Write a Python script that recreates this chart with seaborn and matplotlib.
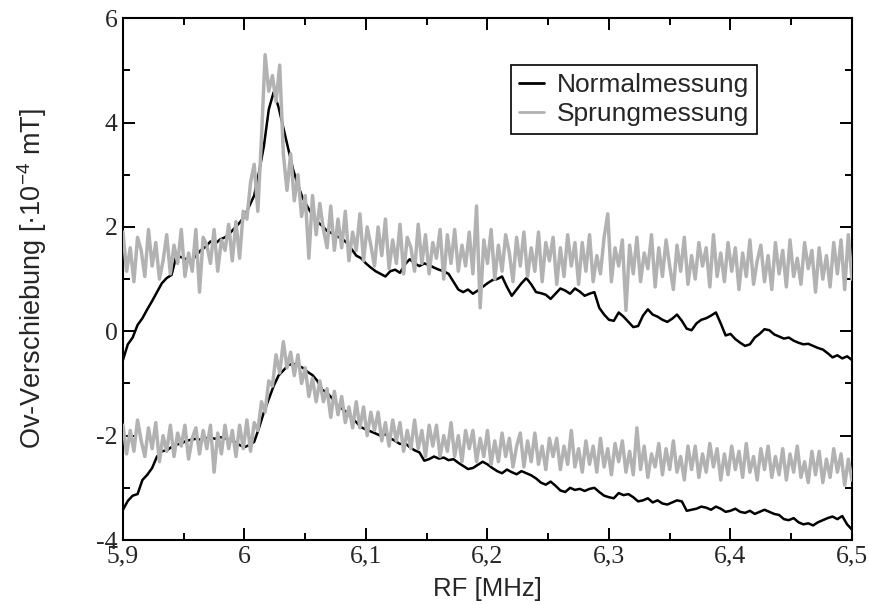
import numpy as np
import pandas as pd
import matplotlib
matplotlib.use("Agg")
import matplotlib.pyplot as plt
from matplotlib.ticker import FixedLocator, FixedFormatter, MultipleLocator
import seaborn as sns

# ---------------- data ----------------
# Normalmessung: sampled every 0.004 MHz from 5.9 MHz
normal_start = 5.9
normal_step = 0.004
# Sprungmessung: sampled every 0.003 MHz from 5.9 MHz
sprung_start = 5.9
sprung_step = 0.003

normal_upper = [
    -0.55, -0.25, -0.12, 0.12, 0.25, 0.42, 0.58, 0.75, 0.92, 1.02,
    1.08, 1.45, 1.42, 1.38, 1.33, 1.45, 1.55, 1.62, 1.72, 1.68,
    1.76, 1.80, 1.88, 1.98, 2.08, 2.20, 2.40, 2.60, 3.05, 3.55,
    4.25, 4.58, 4.30, 3.90, 3.50, 3.10, 2.80, 2.55, 2.38, 2.22,
    2.10, 2.02, 1.92, 1.88, 1.82, 1.78, 1.70, 1.58, 1.45, 1.40,
    1.30, 1.22, 1.15, 1.10, 1.05, 1.15, 1.18, 1.12, 1.28, 1.38,
    1.30, 1.25, 1.30, 1.27, 1.22, 1.18, 1.15, 1.10, 0.95, 0.80,
    0.75, 0.80, 0.72, 0.78, 0.85, 0.92, 0.98, 1.00, 1.05, 0.85,
    0.68, 0.80, 0.92, 1.02, 0.90, 0.75, 0.73, 0.70, 0.62, 0.72,
    0.82, 0.78, 0.72, 0.82, 0.76, 0.68, 0.72, 0.75, 0.45, 0.32,
    0.22, 0.20, 0.36, 0.28, 0.18, 0.08, 0.10, 0.30, 0.42, 0.32,
    0.28, 0.22, 0.18, 0.24, 0.32, 0.20, 0.05, 0.02, 0.15, 0.22,
    0.25, 0.30, 0.36, 0.15, -0.08, -0.05, -0.15, -0.22, -0.28, -0.25,
    -0.12, -0.05, 0.04, 0.02, -0.06, -0.10, -0.14, -0.12, -0.18, -0.22,
    -0.25, -0.24, -0.28, -0.32, -0.35, -0.42, -0.50, -0.46, -0.52, -0.48,
    -0.55,
]

normal_lower = [
    -3.42, -3.25, -3.15, -3.12, -2.85, -2.75, -2.62, -2.40, -2.30, -2.28,
    -2.22, -2.17, -2.15, -2.10, -2.08, -2.06, -2.08, -2.05, -2.04, -2.06,
    -2.03, -2.05, -2.08, -2.12, -2.18, -2.22, -2.18, -2.12, -1.85, -1.55,
    -1.30, -1.05, -0.85, -0.75, -0.65, -0.62, -0.66, -0.70, -0.78, -0.84,
    -0.95, -1.12, -1.18, -1.28, -1.40, -1.48, -1.55, -1.66, -1.74, -1.84,
    -1.88, -1.92, -1.96, -2.00, -1.97, -2.05, -2.10, -2.16, -2.14, -2.22,
    -2.28, -2.32, -2.48, -2.45, -2.40, -2.44, -2.42, -2.47, -2.45, -2.52,
    -2.58, -2.64, -2.62, -2.56, -2.50, -2.55, -2.62, -2.68, -2.72, -2.65,
    -2.70, -2.74, -2.68, -2.72, -2.76, -2.82, -2.90, -2.94, -2.88, -2.96,
    -3.05, -3.08, -3.00, -3.04, -3.02, -3.06, -3.02, -3.00, -3.08, -3.15,
    -3.18, -3.20, -3.10, -3.14, -3.12, -3.18, -3.26, -3.24, -3.20, -3.28,
    -3.24, -3.30, -3.32, -3.28, -3.24, -3.26, -3.44, -3.42, -3.40, -3.36,
    -3.38, -3.42, -3.36, -3.40, -3.46, -3.44, -3.40, -3.46, -3.48, -3.44,
    -3.50, -3.46, -3.42, -3.46, -3.50, -3.52, -3.60, -3.62, -3.58, -3.66,
    -3.70, -3.68, -3.72, -3.66, -3.62, -3.58, -3.55, -3.60, -3.54, -3.70,
    -3.80,
]

sprung_upper = [
    1.90, 1.15, 1.60, 0.95, 1.80, 1.55, 1.05, 1.95, 1.25, 1.70,
    1.00, 1.35, 1.85, 1.10, 1.65, 1.30, 1.95, 1.05, 1.50, 1.15,
    1.95, 0.75, 1.80, 1.65, 1.30, 1.95, 1.15, 1.75, 1.55, 2.05,
    1.35, 2.10, 1.40, 2.30, 2.15, 2.85, 3.20, 2.30, 3.70, 5.30,
    4.60, 4.90, 4.40, 5.10, 3.40, 2.70, 3.40, 2.50, 3.00, 2.20,
    2.60, 1.40, 2.60, 1.85, 2.45, 1.95, 1.60, 2.40, 1.55, 2.15,
    1.60, 2.30, 1.35, 1.90, 1.55, 2.25, 1.35, 2.00, 1.65, 1.25,
    2.00, 1.45, 2.15, 1.20, 1.75, 1.30, 2.05, 1.10, 1.80, 1.60,
    1.15, 2.05, 1.30, 1.85, 1.10, 1.70, 1.40, 1.95, 1.00, 1.85,
    1.30, 1.95, 1.15, 1.65, 1.25, 1.90, 1.10, 2.40, 0.45, 1.75,
    1.30, 1.95, 1.00, 1.65, 1.15, 1.85, 1.50, 0.95, 1.80, 1.25,
    1.90, 1.05, 1.60, 1.15, 1.90, 0.95, 1.70, 1.35, 1.80, 0.90,
    1.60, 1.05, 1.85, 1.25, 1.70, 0.90, 1.70, 1.15, 1.85, 0.95,
    1.45, 1.10, 1.80, 2.25, 0.95, 1.60, 1.25, 1.75, 0.40, 1.65,
    1.10, 1.80, 0.95, 1.50, 1.20, 1.85, 0.85, 1.60, 1.05, 1.75,
    1.25, 0.80, 1.65, 1.15, 1.80, 0.90, 1.45, 1.00, 1.70, 1.25,
    1.60, 0.85, 1.85, 1.05, 1.50, 0.95, 1.70, 1.15, 1.60, 0.80,
    1.50, 1.05, 1.75, 0.90, 1.35, 1.65, 0.95, 1.45, 0.80, 1.70,
    1.10, 1.55, 0.85, 1.75, 1.05, 1.40, 0.90, 1.70, 1.20, 1.55,
    0.75, 1.60, 1.00, 1.45, 0.85, 1.70, 1.10, 1.75, 0.80, 1.85,
    1.00,
]

sprung_lower = [
    -1.80, -2.35, -1.90, -2.30, -1.70, -2.10, -2.40, -1.85, -2.25, -1.75,
    -2.50, -2.00, -2.30, -1.80, -2.40, -1.95, -2.20, -1.80, -2.45, -2.05,
    -1.85, -2.35, -1.90, -2.25, -1.80, -2.70, -1.95, -2.35, -1.80, -2.25,
    -1.90, -2.40, -1.80, -2.25, -1.70, -2.30, -1.75, -1.90, -1.35, -1.55,
    -0.95, -1.05, -0.45, -0.80, -0.20, -0.70, -0.40, -0.85, -0.45, -1.00,
    -0.70, -1.25, -0.90, -1.35, -0.95, -1.35, -1.10, -1.65, -1.15, -1.60,
    -1.25, -1.75, -1.45, -1.85, -1.35, -1.85, -1.45, -2.00, -1.55, -1.90,
    -1.55, -2.10, -1.75, -2.20, -1.70, -2.10, -1.75, -2.30, -1.90, -2.25,
    -1.70, -2.25, -1.90, -2.40, -1.80, -2.20, -1.80, -2.40, -2.00, -2.30,
    -1.75, -2.40, -2.00, -2.50, -1.90, -2.25, -1.90, -2.50, -2.05, -2.40,
    -1.90, -2.55, -2.10, -2.50, -1.95, -2.40, -2.05, -2.60, -2.20, -1.95,
    -2.60, -2.10, -2.50, -1.95, -2.55, -2.20, -2.65, -2.05, -2.40, -2.05,
    -2.65, -2.20, -2.55, -1.90, -2.60, -2.25, -2.70, -2.10, -2.55, -2.20,
    -2.70, -2.05, -2.60, -2.25, -2.75, -2.15, -2.50, -2.10, -2.70, -2.30,
    -2.75, -1.85, -2.65, -2.20, -2.80, -2.35, -2.60, -2.15, -2.75, -2.25,
    -2.65, -2.10, -2.70, -2.40, -2.85, -2.20, -2.65, -2.20, -2.80, -2.35,
    -2.70, -2.15, -2.60, -2.25, -2.85, -2.35, -2.75, -2.20, -2.65, -2.30,
    -2.80, -2.15, -2.70, -2.40, -2.85, -2.25, -2.65, -2.20, -2.80, -2.40,
    -2.75, -2.25, -2.85, -2.35, -2.70, -2.20, -2.80, -2.50, -2.90, -2.30,
    -2.75, -2.30, -2.90, -2.45, -2.80, -2.25, -2.70, -2.35, -2.95, -2.45,
    -2.85,
]

x_ticks = [5.9, 6.0, 6.1, 6.2, 6.3, 6.4, 6.5]
x_tick_labels = ["5,9", "6", "6,1", "6,2", "6,3", "6,4", "6,5"]
y_ticks = [-4, -2, 0, 2, 4, 6]
y_tick_labels = ["-4", "-2", "0", "2", "4", "6"]

series_names = ["Normalmessung", "Sprungmessung"]
x_label = "RF [MHz]"
y_label = "Ov-Verschiebung [\u00b710$^{-4}$ mT]"

# ---------------- build table ----------------
freq_normal = normal_start + normal_step * np.arange(len(normal_upper))
freq_sprung = sprung_start + sprung_step * np.arange(len(sprung_upper))
frames = [
    pd.DataFrame({"RF": freq_normal, "val": normal_upper, "Messung": series_names[0], "part": "upper"}),
    pd.DataFrame({"RF": freq_normal, "val": normal_lower, "Messung": series_names[0], "part": "lower"}),
    pd.DataFrame({"RF": freq_sprung, "val": sprung_upper, "Messung": series_names[1], "part": "upper"}),
    pd.DataFrame({"RF": freq_sprung, "val": sprung_lower, "Messung": series_names[1], "part": "lower"}),
]
df = pd.concat(frames, ignore_index=True)

# ---------------- style ----------------
sns.set_style("ticks")
plt.rcParams["font.family"] = ["Liberation Sans", "DejaVu Sans"]
plt.rcParams["mathtext.fontset"] = "custom"
plt.rcParams["mathtext.rm"] = "Liberation Sans"
plt.rcParams["mathtext.it"] = "Liberation Sans"

fig = plt.figure(figsize=(8.69, 6.05), dpi=100)
ax = fig.add_axes([0.1415, 0.1074, 0.8389, 0.8626])

palette = {series_names[0]: "#000000", series_names[1]: "#b2b2b2"}
widths = {series_names[0]: 1.8, series_names[1]: 2.5}

for name in series_names:
    for part in ["upper", "lower"]:
        sub = df[(df["Messung"] == name) & (df["part"] == part)]
        sns.lineplot(data=sub, x="RF", y="val", ax=ax, color=palette[name],
                     lw=widths[name], estimator=None, sort=False,
                     label=name if part == "upper" else None,
                     zorder=2 if name == series_names[0] else 3)

ax.set_xlim(5.9, 6.5)
ax.set_ylim(-4, 6)
ax.xaxis.set_major_locator(FixedLocator(x_ticks))
ax.xaxis.set_major_formatter(FixedFormatter(x_tick_labels))
ax.yaxis.set_major_locator(FixedLocator(y_ticks))
ax.yaxis.set_major_formatter(FixedFormatter(y_tick_labels))
ax.xaxis.set_minor_locator(MultipleLocator(0.05))
ax.yaxis.set_minor_locator(MultipleLocator(1))
ax.tick_params(which="both", direction="in", top=True, right=True, width=1.4, color="black")
ax.tick_params(which="major", length=8.5, pad=4)
ax.tick_params(which="minor", length=5)
for lab in ax.get_xticklabels() + ax.get_yticklabels():
    lab.set_fontfamily("Liberation Serif")
    lab.set_fontsize(18.5)
for sp in ax.spines.values():
    sp.set_visible(True)
    sp.set_linewidth(1.5)
    sp.set_color("black")

ax.set_xlabel(x_label, fontsize=18.5)
ax.set_ylabel(y_label, fontsize=19.5)
ax.xaxis.set_label_coords(0.5, -0.071)
ax.yaxis.set_label_coords(-0.102, 0.5)

leg = ax.legend(loc="upper right", bbox_to_anchor=(0.8697, 0.910), borderaxespad=0,
                fontsize=19, frameon=True, fancybox=False, handlelength=0.95,
                handletextpad=0.5, borderpad=0.3, labelspacing=0.2)
leg.get_frame().set_edgecolor("black")
leg.get_frame().set_linewidth(1.2)
leg.get_frame().set_alpha(1)
for h in leg.get_lines():
    h.set_linewidth(2.0)

fig.savefig("out.png", dpi=100)
